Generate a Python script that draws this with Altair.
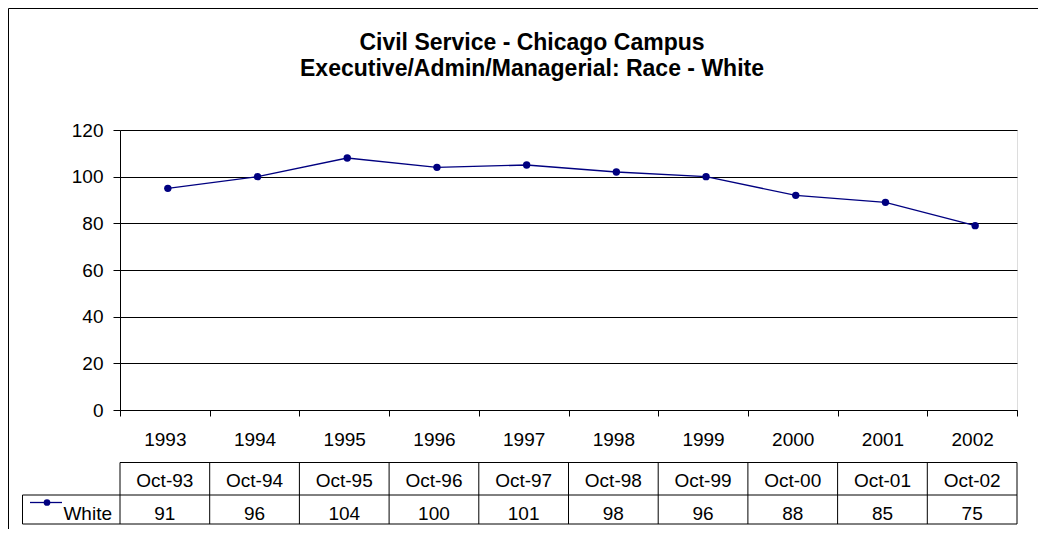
import altair as alt
import pandas as pd

# ---- data ----
years = ["1993", "1994", "1995", "1996", "1997", "1998", "1999", "2000", "2001", "2002"]
months = ["Oct-93", "Oct-94", "Oct-95", "Oct-96", "Oct-97", "Oct-98", "Oct-99", "Oct-00", "Oct-01", "Oct-02"]
table_values = [91, 96, 104, 100, 101, 98, 96, 88, 85, 75]          # numbers printed in the data table
plotted_values = [95, 100, 108, 104, 105, 102, 100, 92, 89, 79]     # where the line's points sit
series_name = "White"
title_line1 = "Civil Service - Chicago Campus"
title_line2 = "Executive/Admin/Managerial: Race - White"
y_ticks = [0, 20, 40, 60, 80, 100, 120]

df = pd.DataFrame({"year": years, "month": months,
                   "label": [str(v) for v in table_values],
                   "value": plotted_values})
one = pd.DataFrame({"series": [series_name], "t1": [title_line1], "t2": [title_line2]})

FONT = "Arial, Liberation Sans, sans-serif"
NAVY = "#000080"
PW, PH = 897, 280          # plot area
PL, PT = 112, 122          # padding left / top
TOTAL_W, TOTAL_H = 1030, 521

xscale = alt.Scale(type="band", paddingInner=0, paddingOuter=0)
xaxis = alt.Axis(title=None, labelAngle=0, tickBand="extent", tickSize=6,
                 labelPadding=29, labelBaseline="alphabetic",
                 labelFontSize=19, labelFont=FONT, labelColor="black",
                 domainColor="black", tickColor="black", grid=False)
yaxis = alt.Axis(title=None, values=y_ticks, grid=True, gridColor="black",
                 gridOpacity=1, gridWidth=1, tickSize=7, labelPadding=10,
                 labelFontSize=19, labelFont=FONT, labelColor="black",
                 domainColor="black", tickColor="black")
yscale = alt.Scale(domain=[0, 120])


def xenc(**kw):
    return alt.X("year:O", sort=years, scale=xscale, axis=xaxis, **kw)


base = alt.Chart(df)

line = base.mark_line(color=NAVY, strokeWidth=1.3, xOffset=3).encode(
    x=xenc(), y=alt.Y("value:Q", scale=yscale, axis=yaxis))
points = base.mark_point(color=NAVY, filled=True, opacity=1, size=55, xOffset=3).encode(
    x=xenc(), y=alt.Y("value:Q", scale=yscale, axis=yaxis))

# data table below the axis
row1_text = base.mark_text(fontSize=19, font=FONT, color="black", baseline="alphabetic").encode(
    x=xenc(), y=alt.value(356.5), text="month:N")
row2_text = base.mark_text(fontSize=19, font=FONT, color="black", baseline="alphabetic").encode(
    x=xenc(), y=alt.value(390), text="label:N")
vlines = base.mark_rule(color="black", strokeWidth=1).encode(
    x=xenc(bandPosition=0), y=alt.value(332.5), y2=alt.value(394))

deco = alt.Chart(one)
hl_top = deco.mark_rule(color="black").encode(x=alt.value(0), x2=alt.value(PW), y=alt.value(332.5))
hl_mid = deco.mark_rule(color="black").encode(x=alt.value(-97.5), x2=alt.value(PW), y=alt.value(365))
hl_bot = deco.mark_rule(color="black").encode(x=alt.value(-97.5), x2=alt.value(PW), y=alt.value(394))
vl_end = deco.mark_rule(color="black").encode(x=alt.value(PW), y=alt.value(332.5), y2=alt.value(394))
vl_leg = deco.mark_rule(color="black").encode(x=alt.value(-97.5), y=alt.value(365), y2=alt.value(394))

leg_line = deco.mark_rule(color=NAVY, strokeWidth=1.3).encode(
    x=alt.value(-90), x2=alt.value(-58), y=alt.value(372.5))
leg_dot = deco.mark_point(color=NAVY, filled=True, opacity=1, size=45).encode(
    x=alt.value(-73), y=alt.value(372.5))
leg_text = deco.mark_text(fontSize=19, font=FONT, color="black", baseline="alphabetic",
                          align="right").encode(x=alt.value(-8), y=alt.value(390), text="series:N")

# titles
t1 = deco.mark_text(fontSize=23, font=FONT, fontWeight="bold", color="black",
                    baseline="alphabetic", align="center").encode(
    x=alt.value(412), y=alt.value(-80), text="t1:N")
t2 = deco.mark_text(fontSize=23, font=FONT, fontWeight="bold", color="black",
                    baseline="alphabetic", align="center").encode(
    x=alt.value(412), y=alt.value(-54), text="t2:N")

# outer chart border (left and top edges visible)
border = deco.mark_rect(fillOpacity=0, stroke="black", strokeWidth=1).encode(
    x=alt.value(-PL + 0.5), y=alt.value(-PT + 0.5), x2=alt.value(2000), y2=alt.value(2000))

chart = alt.layer(
    line, points, row1_text, row2_text, vlines,
    hl_top, hl_mid, hl_bot, vl_end, vl_leg, leg_line, leg_dot, leg_text, t1, t2, border,
).properties(
    width=PW, height=PH,
    autosize=alt.AutoSizeParams(type="none"),
    padding={"left": PL, "top": PT, "right": TOTAL_W - PL - PW, "bottom": TOTAL_H - PT - PH},
).configure_view(strokeWidth=0).configure(background="white")

chart.save("out.html", embed_options={"renderer": "svg", "actions": False})
